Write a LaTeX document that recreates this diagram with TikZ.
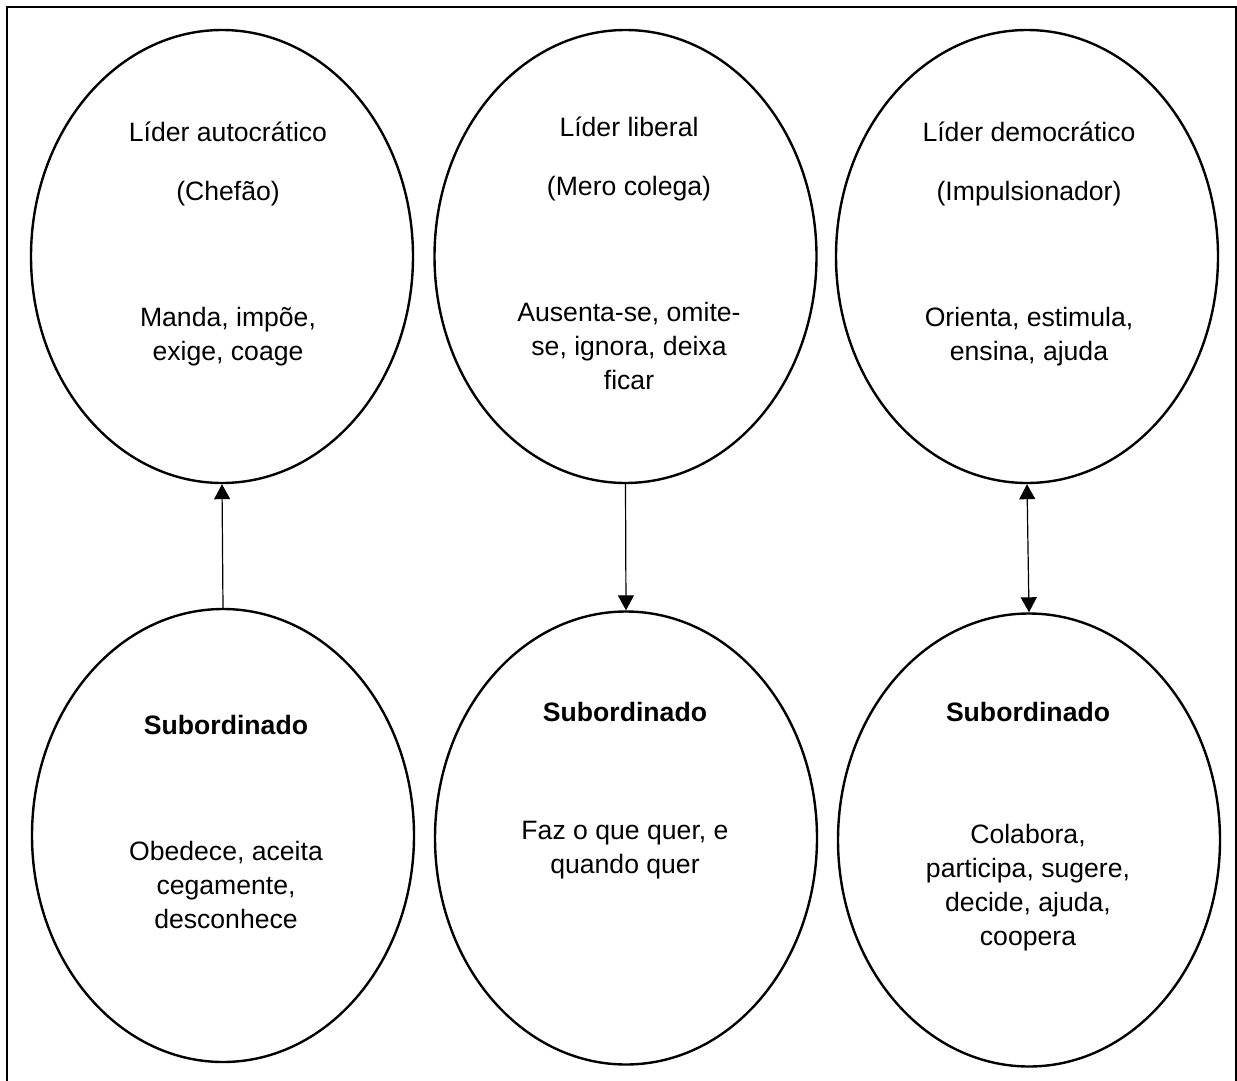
\documentclass[tikz,border=0pt]{standalone}
\usepackage{fontspec}
\setmainfont{Liberation Sans}
\usetikzlibrary{shapes.geometric, arrows.meta}

\tikzset{
  bubble/.style={draw, ellipse, line width=1.2pt, inner sep=0pt,
    minimum width=191pt, minimum height=226.5pt},
  lbl/.style={align=center, inner sep=0pt,
    font=\fontsize{13.3}{17}\selectfont},
  seta/.style={line width=0.6pt, -{Triangle[width=8pt, length=7.5pt]}}
}

\begin{document}
\begin{tikzpicture}[x=0.5pt, y=-0.5pt]

\useasboundingbox (0,0) rectangle (1237,1081);
\draw[line width=1pt] (7,1081) -- (7,7) -- (1236,7) -- (1236,1081);

% lideres
\node[bubble] (autoc) at (222,256.5) {};
\node[bubble] (liberal) at (625.5,256.5) {};
\node[bubble] (democ) at (1027,256.5) {};

% subordinados
\node[bubble] (subA) at (223,835.5) {};
\node[bubble] (subL) at (626,838) {};
\node[bubble] (subD) at (1029,840) {};

\node[lbl] (autocT) at (228,132) {Líder autocrático};
\node[lbl] (autocS) at (228,194) {(Chefão)};
\node[lbl] (autocA) at (228,337) {Manda, impõe,\\exige, coage};

\node[lbl] (liberalT) at (629,127) {Líder liberal};
\node[lbl] (liberalS) at (629,189) {(Mero colega)};
\node[lbl] (liberalA) at (629,346) {Ausenta-se, omite-\\se, ignora, deixa\\ficar};

\node[lbl] (democT) at (1029,132) {Líder democrático};
\node[lbl] (democS) at (1029,194) {(Impulsionador)};
\node[lbl] (democA) at (1029,337) {Orienta, estimula,\\ensina, ajuda};

\node[lbl, font=\fontsize{13.3}{17}\selectfont\bfseries] (subAT) at (226,725) {Subordinado};
\node[lbl] (subAA) at (226,885) {Obedece, aceita\\cegamente,\\desconhece};

\node[lbl, font=\fontsize{13.3}{17}\selectfont\bfseries] (subLT) at (625,712) {Subordinado};
\node[lbl] (subLA) at (625,850) {Faz o que quer, e\\quando quer};

\node[lbl, font=\fontsize{13.3}{17}\selectfont\bfseries] (subDT) at (1028,712) {Subordinado};
\node[lbl] (subDA) at (1028,888) {Colabora,\\participa, sugere,\\decide, ajuda,\\coopera};

% relacoes
\draw[seta] (subA.north) -- (autoc.south);
\draw[seta] (liberal.south) -- (subL.north);
\draw[seta, {Triangle[width=8pt, length=7.5pt]}-{Triangle[width=8pt, length=7.5pt]}] (democ.south) -- (subD.north);

\end{tikzpicture}
\end{document}
